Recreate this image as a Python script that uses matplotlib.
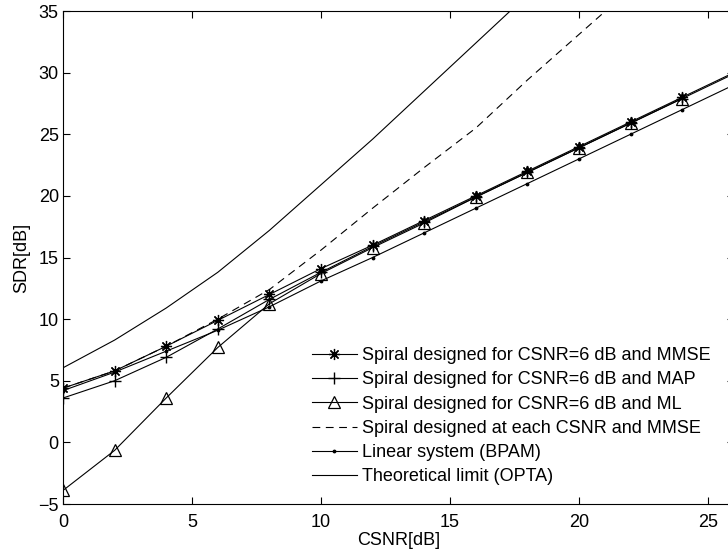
import numpy as np
import matplotlib
matplotlib.use('Agg')
import matplotlib.pyplot as plt

plt.rcParams['font.family'] = ['Liberation Sans', 'DejaVu Sans']

csnr = [0, 2, 4, 6, 8, 10, 12, 14, 16, 18, 20, 22, 24, 26]

# Spiral for CSNR=6 dB, MMSE / MAP / ML decoding
sdr_mmse = [4.4, 5.8, 7.8, 9.9, 12.0, 14.1, 16.0, 18.0, 20.0, 22.0, 24.0, 26.0, 28.0, 30.0]
sdr_map = [3.6, 5.0, 6.9, 9.2, 11.6, 13.8, 15.9, 17.9, 19.9, 21.9, 23.9, 25.9, 27.9, 29.9]
sdr_ml = [-3.9, -0.65, 3.6, 7.7, 11.25, 13.7, 15.8, 17.8, 19.9, 21.9, 23.9, 25.9, 27.9, 29.9]

# spiral optimised at every CSNR
csnr_adapt = [0, 2, 4, 6, 8, 10, 12, 14, 16, 18, 20, 22]
sdr_adapt = [4.4, 5.8, 7.8, 10.0, 12.4, 15.6, 19.0, 22.3, 25.5, 29.4, 33.1, 36.8]

# linear system
sdr_bpam = [4.2, 5.7, 7.4, 9.1, 11.0, 13.1, 15.0, 17.0, 19.0, 21.0, 23.0, 25.0, 27.0, 29.0]

# OPTA
csnr_opta = [0, 2, 4, 6, 8, 10, 12, 14, 16, 18]
sdr_opta = [6.05, 8.3, 10.9, 13.8, 17.2, 20.9, 24.6, 28.5, 32.4, 36.3]

fs = 13

fig = plt.figure(figsize=(7.28, 5.54), dpi=100)
ax = fig.add_axes([63/728, 1 - 504/554, 670.8/728, 493/554])

lw = 0.8
ax.plot(csnr, sdr_mmse, 'k-', marker=(8, 2, 0), lw=lw, ms=8, mew=0.9,
        label='Spiral designed for CSNR=6 dB and MMSE')
ax.plot(csnr, sdr_map, 'k-+', lw=lw, ms=9, mew=1.0, label='Spiral designed for CSNR=6 dB and MAP')
ax.plot(csnr[:-1], sdr_ml[:-1], 'k-^', lw=lw, ms=8, mfc='none', mew=0.9,
        label='Spiral designed for CSNR=6 dB and ML')
ax.plot(csnr_adapt, sdr_adapt, 'k--', lw=lw, dashes=(7, 5),
        label='Spiral designed at each CSNR and MMSE')
ax.plot(csnr, sdr_bpam, 'k.', lw=lw, ms=3.5, linestyle='-', label='Linear system (BPAM)')
ax.plot(csnr_opta, sdr_opta, 'k-', lw=lw, label='Theoretical limit (OPTA)')

ax.set_xlim(0, 26)
ax.set_ylim(-5, 35)
ax.set_xticks([0, 5, 10, 15, 20, 25])
ax.set_yticks(np.arange(-5, 36, 5))
ax.tick_params(direction='in', top=True, right=True, length=5, labelsize=fs, pad=3)
ax.tick_params(axis='x', pad=7)
ax.grid(False)
for s in ax.spines.values():
    s.set_linewidth(0.8)

ax.set_xlabel('CSNR[dB]', fontsize=fs, labelpad=1)
ax.set_ylabel('SDR[dB]', fontsize=fs, labelpad=6)

ax.legend(loc='lower left', bbox_to_anchor=(0.371, 0.038), frameon=False, fontsize=fs,
          handlelength=2.5, handletextpad=0.28, labelspacing=0.4,
          borderaxespad=0, borderpad=0)

fig.savefig('out.png', dpi=100)
